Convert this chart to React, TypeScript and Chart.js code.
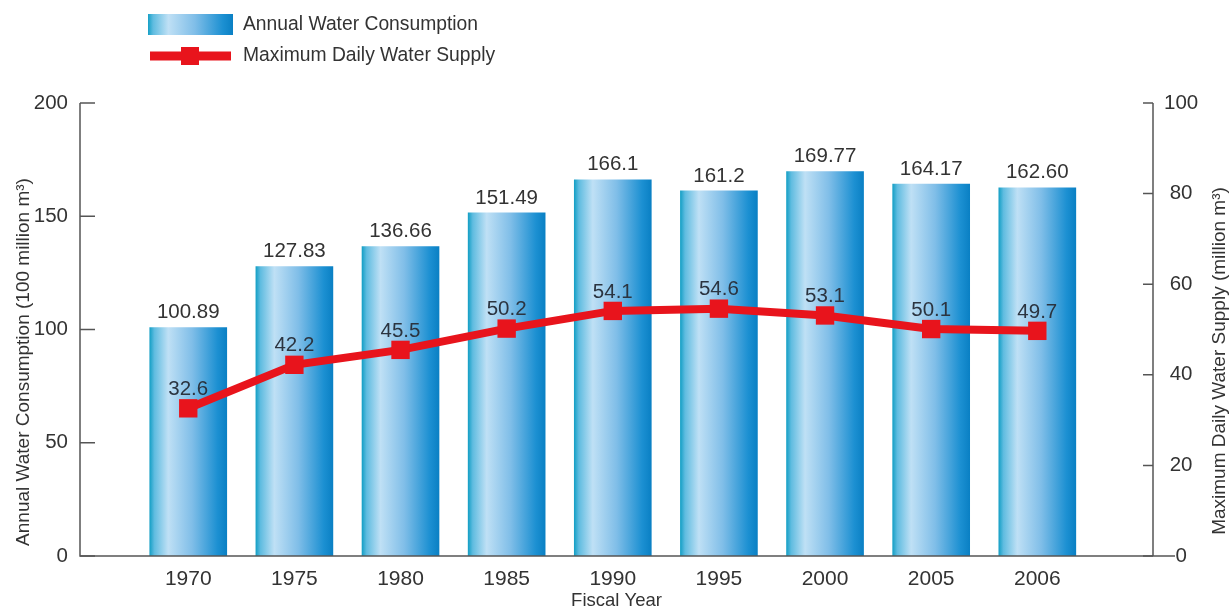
import React, { useEffect, useRef } from "react";
import { Chart, registerables } from "chart.js";

Chart.register(...registerables);

// Fiscal years shown on the category axis
const years = ["1970", "1975", "1980", "1985", "1990", "1995", "2000", "2005", "2006"];
// Annual water consumption (100 million m³), as printed above each bar
const consumptionLabels = ["100.89", "127.83", "136.66", "151.49", "166.1", "161.2", "169.77", "164.17", "162.60"];
const consumption = consumptionLabels.map(Number);
// Maximum daily water supply (million m³)
const supplyLabels = ["32.6", "42.2", "45.5", "50.2", "54.1", "54.6", "53.1", "50.1", "49.7"];
const supply = supplyLabels.map(Number);

const leftTitle = "Annual Water Consumption (100 million m³)";
const rightTitle = "Maximum Daily Water Supply (million m³)";
const xTitle = "Fiscal Year";
const legendBar = "Annual Water Consumption";
const legendLine = "Maximum Daily Water Supply";

const FONT = '"Liberation Sans", Arial, sans-serif';
const TEXT = "#333333";
const AXIS = "#555555";
const RED = "#e8141c";
const BAR_W = 77;

function blueGradient(ctx: CanvasRenderingContext2D, x0: number, x1: number) {
  const g = ctx.createLinearGradient(x0, 0, x1, 0);
  g.addColorStop(0, "#16a0c6");
  g.addColorStop(0.06, "#5fbce0");
  g.addColorStop(0.24, "#bfe0f5");
  g.addColorStop(0.55, "#80bee8");
  g.addColorStop(0.88, "#1c90d2");
  g.addColorStop(1, "#0a80c4");
  return g;
}

// paints every bar with its own horizontal gradient, spanning the bar's width
const barShading = {
  id: "barShading",
  beforeDatasetsDraw(chart: any) {
    const meta = chart.getDatasetMeta(1);
    for (const el of meta.data) {
      const w = el.width ?? BAR_W;
      if (!Number.isFinite(el.x)) continue;
      el.options = Object.assign({}, el.options, {
        backgroundColor: blueGradient(chart.ctx, el.x - w / 2, el.x + w / 2),
      });
    }
  },
};

const decorations = {
  id: "decorations",
  afterDatasetsDraw(chart: any) {
    const { ctx, chartArea, scales } = chart;
    const x = scales.x;
    const y = scales.y;
    const y1 = scales.y1;
    ctx.save();

    // axis lines
    ctx.strokeStyle = AXIS;
    ctx.lineWidth = 1.5;
    ctx.beginPath();
    ctx.moveTo(chartArea.left, chartArea.top);
    ctx.lineTo(chartArea.left, chartArea.bottom);
    ctx.lineTo(chartArea.right + 22, chartArea.bottom);
    ctx.moveTo(chartArea.right, chartArea.top);
    ctx.lineTo(chartArea.right, chartArea.bottom);
    ctx.stroke();

    // inward tick marks
    ctx.beginPath();
    for (const t of y.ticks) {
      const py = y.getPixelForValue(t.value);
      ctx.moveTo(chartArea.left, py);
      ctx.lineTo(chartArea.left + 15, py);
    }
    for (const t of y1.ticks) {
      const py = y1.getPixelForValue(t.value);
      ctx.moveTo(chartArea.right - 10, py);
      ctx.lineTo(chartArea.right, py);
    }
    ctx.stroke();

    // value labels
    ctx.fillStyle = TEXT;
    ctx.font = `20.5px ${FONT}`;
    ctx.textAlign = "center";
    ctx.textBaseline = "middle";
    consumption.forEach((v, i) => {
      ctx.fillText(consumptionLabels[i], x.getPixelForValue(i), y.getPixelForValue(v) - 15);
    });
    ctx.fillStyle = "#2b3440";
    supply.forEach((v, i) => {
      ctx.fillText(supplyLabels[i], x.getPixelForValue(i), y1.getPixelForValue(v) - 19);
    });

    // axis titles
    ctx.fillStyle = TEXT;
    ctx.font = `19px ${FONT}`;
    ctx.save();
    ctx.translate(24, 362);
    ctx.rotate(-Math.PI / 2);
    ctx.fillText(leftTitle, 0, 0);
    ctx.restore();
    ctx.save();
    ctx.translate(1220, 361);
    ctx.rotate(-Math.PI / 2);
    ctx.fillText(rightTitle, 0, 0);
    ctx.restore();
    ctx.font = `18.5px ${FONT}`;
    ctx.fillText(xTitle, (chartArea.left + chartArea.right) / 2, 601);

    // legend
    ctx.fillStyle = blueGradient(ctx, 148, 233);
    ctx.fillRect(148, 14, 85, 21);
    ctx.strokeStyle = RED;
    ctx.lineWidth = 9;
    ctx.beginPath();
    ctx.moveTo(150, 56);
    ctx.lineTo(231, 56);
    ctx.stroke();
    ctx.fillStyle = RED;
    ctx.fillRect(181, 47, 18, 18);
    ctx.fillStyle = TEXT;
    ctx.textAlign = "left";
    ctx.font = `19.3px ${FONT}`;
    ctx.fillText(legendBar, 243, 25);
    ctx.fillText(legendLine, 243, 56);

    ctx.restore();
  },
};

export default function App() {
  const canvasRef = useRef<HTMLCanvasElement | null>(null);

  useEffect(() => {
    document.body.style.margin = "0";
    const canvas = canvasRef.current;
    if (!canvas) return;

    const chart = new Chart(canvas, {
      type: "bar",
      data: {
        datasets: [
          {
            type: "line",
            label: legendLine,
            data: supply.map((v, i) => ({ x: i, y: v })),
            yAxisID: "y1",
            borderColor: RED,
            backgroundColor: RED,
            borderWidth: 8,
            pointStyle: "rect",
            pointRadius: 13,
            pointBorderWidth: 0,
            pointBackgroundColor: RED,
            tension: 0,
            order: 0,
          },
          {
            type: "bar",
            label: legendBar,
            data: consumption.map((v, i) => ({ x: i, y: v })),
            yAxisID: "y",
            barThickness: BAR_W,
            borderWidth: 0,
            backgroundColor: "#5fb4e4",
            order: 1,
          },
        ],
      },
      options: {
        responsive: false,
        animation: false,
        layout: { padding: { top: 103, left: 0, right: 0, bottom: 0 } },
        plugins: {
          legend: { display: false },
          tooltip: { enabled: false },
        },
        scales: {
          x: {
            type: "linear",
            position: "bottom",
            offset: false,
            min: -1.02,
            max: 9.09,
            afterBuildTicks: (s: any) => {
              s.ticks = years.map((_, i) => ({ value: i }));
            },
            afterFit: (s: any) => {
              s.height = 54;
            },
            grid: { display: false, drawTicks: false, offset: false },
            border: { display: false },
            ticks: {
              autoSkip: false,
              maxRotation: 0,
              padding: 11,
              color: TEXT,
              font: { family: FONT, size: 21 },
              callback: (v: any) => years[v] ?? "",
            },
          },
          y: {
            position: "left",
            min: 0,
            max: 200,
            afterFit: (s: any) => {
              s.width = 80;
            },
            grid: { display: false, drawTicks: false },
            border: { display: false },
            ticks: {
              stepSize: 50,
              padding: 12,
              color: TEXT,
              font: { family: FONT, size: 20.5 },
            },
          },
          y1: {
            position: "right",
            min: 0,
            max: 100,
            afterFit: (s: any) => {
              s.width = 79;
            },
            grid: { display: false, drawTicks: false },
            border: { display: false },
            ticks: {
              stepSize: 20,
              padding: 11,
              crossAlign: "center",
              color: TEXT,
              font: { family: FONT, size: 20.5 },
            },
          },
        },
      },
      plugins: [barShading, decorations],
    });

    return () => chart.destroy();
  }, []);

  return (
    <div style={{ width: 1232, height: 610, background: "#ffffff" }}>
      <canvas ref={canvasRef} width={1232} height={610} />
    </div>
  );
}
